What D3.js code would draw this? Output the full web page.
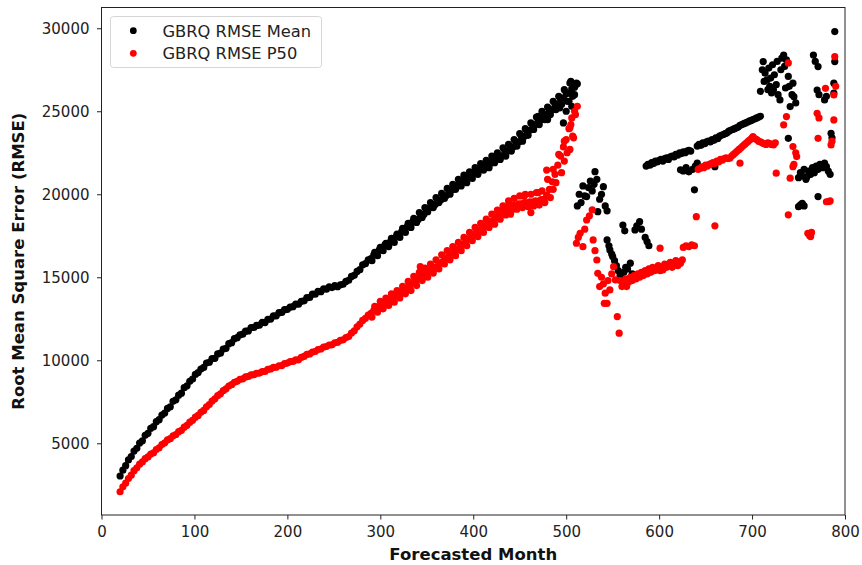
<!DOCTYPE html>
<html><head><meta charset="utf-8">
<script src="https://cdn.jsdelivr.net/npm/d3@7"></script>
<style>body{margin:0;background:#fff;} text{font-family:"DejaVu Sans",sans-serif;}</style>
</head><body><svg id="c" width="862" height="565"></svg>
<script>
// ---- data ----
const xTicks = [0,100,200,300,400,500,600,700,800];
const yTicks = [5000,10000,15000,20000,25000,30000];
const seriesNames = ["GBRQ RMSE Mean","GBRQ RMSE P50"];
const seriesColors = ["#000000","#ff0000"];

// regular monthly part (months 20..512, every 3rd month)
const denseMonths = d3.range(20, 513, 3);
const meanDense = [
3030,3380,3650,4000,4200,4530,4700,5010,5150,5480,
5600,5900,6000,6300,6420,6700,6820,7100,7200,7530,
7620,7900,8020,8350,8460,8730,8870,9150,9260,9470,
9570,9830,9880,10100,10120,10380,10430,10680,10720,11000,
11060,11300,11360,11530,11570,11750,11770,11970,11980,12100,
12120,12280,12270,12470,12480,12670,12680,12870,12880,13050,
13070,13200,13230,13380,13380,13550,13580,13770,13780,13980,
13980,14150,14130,14300,14280,14430,14380,14500,14430,14550,
14580,14750,14820,15050,15120,15350,15460,15750,15820,16050,
16120,16350,16420,16650,16720,16950,16970,17150,17220,17450,
17520,17750,17820,18050,18120,18350,18420,18500,18720,18800,
19100,19200,19350,19380,19600,19650,19850,19920,20150,20250,
20500,20550,20800,20800,21000,21050,21250,21300,21500,21480,
21700,21720,21900,21880,22100,22120,22300,22300,22550,22600,
22800,22850,23100,23150,23450,23500,23800,23850,24150,24200,
24450,24500,24750,24800,25050,25100,25400,25450,25750,25800,
26050,26100,26350,26450,26650];
const p50Dense = [
2080,2380,2600,2880,3080,3350,3520,3740,3880,4070,
4180,4350,4430,4620,4730,4920,5030,5200,5280,5450,
5530,5700,5780,5970,6080,6270,6380,6570,6680,6870,
6980,7200,7330,7540,7680,7870,7980,8170,8280,8450,
8530,8670,8730,8850,8880,9000,9030,9120,9130,9220,
9230,9320,9330,9450,9480,9570,9580,9670,9680,9800,
9830,9920,9930,10020,10030,10170,10230,10350,10380,10500,
10530,10650,10680,10800,10830,10920,10930,11050,11080,11200,
11230,11370,11430,11640,11780,12020,12180,12400,12530,12720,
12830,13000,13080,13250,13330,13500,13580,13720,13780,13920,
13980,14120,14180,14370,14480,14670,14780,14920,14980,15150,
15230,15400,15480,15620,15680,15870,15980,16170,16280,16450,
16530,16700,16780,17000,17130,17320,17430,17600,17680,17850,
17930,18100,18180,18350,18430,18650,18780,18970,19080,19230,
19280,19350,19330,19420,19430,19500,19480,19550,19530,19600,
19580,19680,19700,19950,20300,20750,21200,21750,22300,22850,
23300,23950,24600,25000,25300];

// second, noisier pass over months 291..510 (every 3rd month)
const extraMonths = d3.range(291, 511, 3);
const meanExtra = [
16000,16500,16300,16800,16600,17050,16850,17350,17100,17600,
17400,17950,17700,18250,18000,18550,18300,18900,18600,19200,
18950,19500,19200,19800,19500,20050,19750,20350,20000,20600,
20300,20900,20500,21150,20700,21350,20950,21600,21200,21850,
21450,22050,21600,22300,21900,22500,22100,22800,22300,23000,
22600,23300,22900,23650,23200,23950,23550,24300,23900,24650,
24200,25000,24500,25250,24800,25600,25100,25900,25400,26300,
25600,26700,25900,26600];
const p50Extra = [
12600,13250,12900,13550,13100,13750,13300,14000,13500,14200,
13750,14450,14000,14750,14200,15050,14500,15300,14800,15550,
15000,15800,15250,16050,15500,16350,15800,16600,16050,16850,
16300,17100,16600,17400,16900,17700,17200,18000,17450,18250,
17700,18500,18000,18800,18200,19050,18500,19300,18750,19600,
19000,19750,19100,19900,19200,20000,19250,20000,19300,20100,
19350,20200,19500,20900,19800,21500,20700,22400,21300,23200,
22500,24000,23500,24800];

// scattered part [month, value]
const meanScatter = [
[497,24300],[500,25000],[503,25600],[506,25300],[509,26000],[511,26700],[505,26800],[493,25200],[470,24700],[480,24500],
[512,19300],[514,20000],[516,19500],[518,20500],[520,19900],[522,19860],[524,20400],[526,20800],[528,20200],[530,20600],
[531,21360],[533,20900],[534,18950],[536,19700],[538,20000],[540,20460],[542,19300],[544,19000],
[544,17250],[546,16900],[547,16650],[549,16400],[550,16250],[552,16000],[554,15700],[556,15400],[558,15100],[560,14940],
[562,15300],[564,15600],[566,15500],[569,15850],[571,15200],[561,18150],[563,17800],[574,17850],[576,18100],[579,18350],
[581,17900],[585,17400],[587,17150],[589,16900],
[586,21700],[588,21800],[590,21750],[592,21900],[594,21850],[596,22000],[598,21950],[600,22050],[602,22100],[604,22000],
[606,22150],[608,22200],[610,22100],[612,22250],[614,22300],[616,22250],[618,22400],[620,22350],[622,22500],[624,22450],
[626,22550],[628,22500],[630,22600],[632,22650],[634,22600],
[623,21470],[626,21400],[629,21600],[632,21350],[636,21500],[639,21700],[641,21870],[638,20270],
[641,22900],[643,23000],[645,22950],[647,23100],[649,23050],[651,23150],[653,23200],[655,23150],[657,23300],[659,23250],
[661,23400],[663,23350],[665,23500],[667,23550],[669,23600],[671,23650],[673,23700],[675,23800],[677,23850],[679,23900],
[681,23950],[683,24000],[685,24050],[687,24150],[689,24200],[691,24250],[693,24300],[695,24350],[697,24400],[699,24450],
[701,24500],[703,24550],[705,24600],[707,24650],[709,24700],[660,21660],
[709,26200],[711,27500],[712,27990],[713,26800],[714,27300],[716,26890],[717,26300],[718,27600],[719,26500],[720,27000],
[721,26100],[722,27800],[723,26290],[724,27200],[726,26600],[727,28000],[728,26000],[730,25680],[731,27500],[732,28200],
[734,28390],[735,27700],[736,26400],[737,28090],[739,27100],[740,26500],[741,25280],[743,26000],[744,26690],[745,25880],
[747,25500],[739,23370],
[750,21000],[752,21300],[754,21100],[756,21500],[758,20900],[759,21060],[761,21400],[763,21200],[765,21600],[767,21300],
[769,21700],[771,21500],[773,21800],[776,21600],[778,21870],[780,21660],[782,21400],[784,21200],
[750,19250],[752,19360],[754,19460],[756,19300],[771,19860],
[766,28390],[768,28000],[771,27690],[770,26280],[772,26000],[778,25680],[780,25900],[788,26690],[789,29800],[789,27990],
[788,26090],[785,23670],[786,23400]];

const p50Scatter = [
[343,15640],[346,15500],[479,21460],[498,22000],[504,22700],[508,23400],[486,20300],[505,24200],[440,18800],[455,19900],
[470,20100],[462,18900],
[511,17050],[515,17650],[518,16840],[522,18450],[528,19060],[529,17250],[533,16040],[534,15240],[536,14440],[542,14040],
[544,13430],[547,14240],[551,15640],[553,14840],[555,12630],[557,11630],[513,17400],[520,17900],[525,18700],[531,16600],
[538,15000],[540,14600],[545,14800],[549,15200],[541,13430],
[558,14800],[560,14440],[562,14600],[564,14900],[565,14440],[567,14700],[569,15000],[571,14800],[573,15100],[575,14900],
[577,15200],[579,15000],[581,15300],[583,15100],[585,15400],[587,15200],[589,15500],[591,15300],[593,15600],[595,15400],
[597,15500],[599,15700],[601,15400],[603,15600],[604,15440],[606,15800],[608,15600],[610,15700],[612,15900],[614,15600],
[616,15800],[618,16000],[620,15700],[623,15850],[625,16050],
[601,16750],[626,16800],[629,16900],[632,16850],[635,16950],[638,16900],[640,18650],[660,18100],
[642,21500],[644,21560],[646,21650],[648,21600],[650,21750],[652,21700],[654,21800],[656,21850],[658,21900],[660,21850],
[662,22000],[664,21950],[666,22100],[668,22050],[670,22150],[672,22200],[674,22150],[676,22170],[678,22300],[680,22400],
[682,22500],[684,22600],[686,22700],[688,22800],[690,22900],[692,23000],[694,23100],[696,23200],[698,23300],[700,23400],
[701,23470],[703,23350],[705,23300],[707,23200],[709,23150],[711,23100],[713,23050],[715,23000],[717,23100],[719,23050],
[721,23000],[723,22970],[725,23100],[687,21870],
[726,21270],[734,24180],[737,24680],[739,18760],[744,22870],[748,22270],[744,21660],[741,20970],[745,21800],[747,22500],
[739,27910],[760,17650],[762,17500],[764,17700],[763,17450],
[770,24880],[771,23370],[772,24600],[779,26380],[780,19550],[782,19550],[784,19600],[788,24480],[785,22970],[789,28290],
[788,25980],[790,26500],[786,23200]];

// ---- chart ----
const svg = d3.select("#c");
const x = d3.scaleLinear().domain([0, 800]).range([101.5, 845]);
const y = d3.scaleLinear().domain([680, 31250]).range([515, 7.5]);

const meanPts = denseMonths.map((m, i) => [m, meanDense[i]])
  .concat(extraMonths.map((m, i) => [m, meanExtra[i]])).concat(meanScatter);
const p50Pts = denseMonths.map((m, i) => [m, p50Dense[i]])
  .concat(extraMonths.map((m, i) => [m, p50Extra[i]])).concat(p50Scatter);

const R = 3.6;
svg.append("g").selectAll("circle").data(meanPts).join("circle")
  .attr("cx", d => x(d[0])).attr("cy", d => y(d[1])).attr("r", R).attr("fill", seriesColors[0]);
svg.append("g").selectAll("circle").data(p50Pts).join("circle")
  .attr("cx", d => x(d[0])).attr("cy", d => y(d[1])).attr("r", R).attr("fill", seriesColors[1]);

// axes
const xAxis = svg.append("g").attr("transform", `translate(0,515)`)
  .call(d3.axisBottom(x).tickValues(xTicks).tickFormat(d3.format("d")).tickSize(4.5).tickPadding(7).tickSizeOuter(0));
const yAxis = svg.append("g").attr("transform", `translate(101.5,0)`)
  .call(d3.axisLeft(y).tickValues(yTicks).tickFormat(d3.format("d")).tickSize(4.5).tickPadding(7.5).tickSizeOuter(0));
[xAxis, yAxis].forEach(a => {
  a.select(".domain").remove();
  a.selectAll("line").attr("stroke", "#222").attr("stroke-width", 1);
  a.selectAll("text").attr("fill", "#222").style("font-size", "15px").style("font-family", "DejaVu Sans");
});

// frame (spines)
svg.append("rect").attr("x", 101.5).attr("y", 7.5).attr("width", 845 - 101.5).attr("height", 515 - 7.5)
  .attr("fill", "none").attr("stroke", "#222").attr("stroke-width", 1);

// axis labels
svg.append("text").attr("x", (101.5 + 845) / 2).attr("y", 560).attr("text-anchor", "middle")
  .style("font-size", "16.5px").style("font-weight", "bold").attr("fill", "#111").text("Forecasted Month");
svg.append("text").attr("transform", `translate(24,${(7.5 + 515) / 2}) rotate(-90)`).attr("text-anchor", "middle")
  .style("font-size", "16.5px").style("font-weight", "bold").attr("fill", "#111").text("Root Mean Square Error (RMSE)");

// legend
const lg = svg.append("g");
lg.append("rect").attr("x", 110.5).attr("y", 16.5).attr("width", 211).attr("height", 51).attr("rx", 3)
  .attr("fill", "#fff").attr("fill-opacity", 0.8).attr("stroke", "#d6d6d6").attr("stroke-width", 1);
seriesNames.forEach((name, i) => {
  const ly = 30.7 + i * 22.6;
  lg.append("circle").attr("cx", 133.3).attr("cy", ly).attr("r", 3.4).attr("fill", seriesColors[i]);
  lg.append("text").attr("x", 162.5).attr("y", ly).attr("dy", "0.36em")
    .style("font-size", "16.3px").attr("fill", "#222").text(name);
});
</script></body></html>
